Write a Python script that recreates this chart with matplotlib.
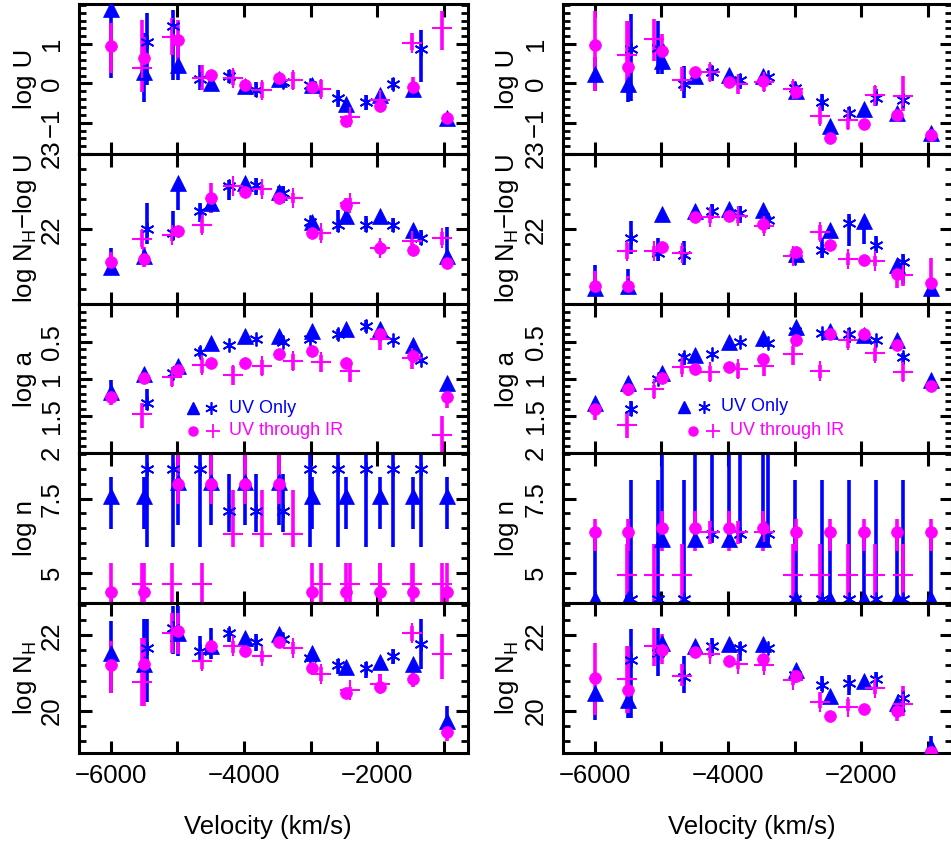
import matplotlib
matplotlib.use('Agg')
import matplotlib.pyplot as plt
import numpy as np
from matplotlib.ticker import FixedLocator

plt.rcParams['font.family'] = ['Liberation Sans', 'DejaVu Sans']
plt.rcParams['mathtext.default'] = 'regular'

BLUE = '#0000FF'
MAG = '#FF00FF'

# ---------------- velocities (km/s) ----------------
vel_tri = [-6000, -5500, -4990, -4490, -3985, -3475, -2980, -2460, -1960, -1460, -950]
vel_circ = [-6005, -5500, -4995, -4490, -3985, -3475, -2980, -2460, -1960, -1455, -945]
vel_star_L = [-5464, -5063, -4662, -4221, -3820, -3409, -3008, -2582, -2165, -1764, -1343]
vel_plus_L = [-5539, -5088, -4637, -4160, -3734, -3258, -2847, -2406, -1955, -1479, -1028]
vel_star_R = [-5459, -5058, -4657, -4236, -3820, -3404, -2992, -2591, -2180, -1779, -1363]
vel_plus_R = [-5524, -5108, -4697, -4271, -3845, -3454, -3018, -2617, -2200, -1790, -1375]

N = None
# each series: [value, lower bound, upper bound]
# ---------------- left column ----------------
LU_tri = [[1.89, 0.30, 0.47, 0.02, -0.07, 0.10, -0.03, -0.53, -0.30, -0.13, -0.87],
          [0.15, -0.47, 0.09, -0.17, N, N, N, -0.65, N, N, N],
          [2.10, 1.28, 1.02, 0.17, N, N, N, -0.43, N, N, N]]
LU_circ = [[0.94, 0.64, 1.11, 0.21, -0.03, 0.14, -0.09, -0.95, -0.58, -0.10, -0.89],
           [0.26, 0.09, 0.43, N, N, N, N, N, N, -0.30, N],
           [1.53, 1.19, 1.62, N, N, N, N, N, N, 0.17, N]]
LU_star = [[1.05, 1.45, 0.10, 0.19, -0.17, 0.04, -0.05, -0.36, -0.47, -0.02, 0.87],
           [-0.04, 0.09, -0.17, 0.00, -0.34, N, N, -0.60, -0.68, -0.17, 0.04],
           [1.79, 1.87, 0.47, 0.34, 0.04, N, N, -0.17, -0.30, 0.13, 1.36]]
LU_plus = [[0.38, 1.19, 0.13, 0.15, -0.17, 0.09, -0.13, -0.85, -0.41, 1.04, 1.40],
           [-0.21, 0.72, -0.17, -0.04, -0.38, -0.13, -0.34, -0.98, -0.50, 0.85, 0.85],
           [1.62, 1.66, 0.47, 0.34, 0.04, 0.30, 0.09, -0.72, -0.34, 1.28, 1.83]]

LNU_tri = [[21.50, 21.64, 22.61, 22.35, 22.61, 22.50, 22.10, 22.17, 22.17, 21.99, 21.64],
           [21.46, 21.55, 22.26, 22.21, 22.44, 22.35, N, 22.10, N, N, 21.59],
           [21.75, 21.72, 22.61, 22.39, 22.64, 22.57, N, 22.24, N, N, 22.03]]
LNU_circ = [[21.56, 21.61, 21.98, 22.41, 22.50, 22.41, 21.95, 22.32, 21.75, 21.73, 21.55],
            [21.50, 21.50, N, 22.21, 22.44, N, N, 22.24, 21.68, 21.68, 21.50],
            [21.70, 21.77, N, 22.61, 22.57, N, N, 22.41, 21.84, 21.81, 21.64]]
LNU_star = [[22.01, 21.95, 22.24, 22.57, 22.59, 22.48, 22.10, 22.06, 22.06, 22.06, 21.89],
            [21.81, 21.86, 22.10, 22.39, 22.46, 22.35, N, 21.97, 21.97, 21.97, 21.79],
            [22.35, 22.24, 22.35, 22.66, 22.68, 22.57, N, 22.26, 22.17, 22.15, 21.99]]
LNU_plus = [[21.87, 21.92, 22.06, 22.57, 22.53, 22.41, 21.95, 22.35, 21.75, 21.85, 21.88],
            [21.77, 21.84, 21.95, N, 22.46, 22.35, 21.86, 22.26, 21.68, 21.79, 21.79],
            [21.99, 22.01, 22.21, N, 22.59, 22.48, 22.01, 22.41, 21.81, 21.92, 21.97]]

La_tri = [[1.17, 0.93, 0.83, 0.52, 0.42, 0.42, 0.35, 0.32, 0.32, 0.54, 1.05],
          [1.01, N, N, N, N, N, N, N, N, N, N],
          [1.28, N, N, N, N, N, N, N, N, N, N]]
La_circ = [[1.25, 0.99, 0.88, 0.79, 0.79, 0.67, 0.62, 0.79, 0.39, 0.69, 1.24],
           [1.15, 0.92, N, N, N, N, N, N, 0.30, 0.61, 1.13],
           [1.35, 1.06, N, N, N, N, N, N, 0.50, 0.79, 1.39]]
La_star = [[1.33, 0.92, 0.63, 0.54, 0.46, 0.50, 0.46, 0.39, 0.28, 0.47, 0.74],
           [1.13, N, 0.57, N, N, N, N, 0.32, 0.21, N, N],
           [1.42, N, 0.70, N, N, N, N, 0.48, 0.37, N, N]]
La_plus = [[1.47, 0.98, 0.81, 0.95, 0.83, 0.76, 0.77, 0.89, 0.46, 0.72, 1.75],
           [1.33, 0.90, 0.72, 0.83, 0.75, 0.66, 0.68, 0.83, 0.37, 0.66, 1.50],
           [1.66, 1.10, 0.92, 1.08, 0.95, 0.88, 0.90, 1.04, 0.61, 0.86, 2.00]]

Ln_tri = [[7.60, 7.60, 8.05, 8.05, 8.05, 8.05, 7.60, 7.60, 7.60, 7.60, 7.60],
          [6.49, 6.49, 6.60, 6.60, 6.60, 6.60, 6.49, 6.49, 6.49, 6.49, 6.49],
          [8.23, 8.23, 9.30, 9.30, 9.30, 9.30, 8.23, 8.23, 8.23, 8.23, 8.23]]
Ln_circ = [[4.37, 4.37, 8.00, 8.00, 8.00, 8.00, 4.37, 4.37, 4.37, 4.37, 4.37],
           [3.90, 3.90, 7.33, 7.33, 7.33, 7.33, 3.90, 3.90, 3.90, 3.90, 3.90],
           [5.32, 5.32, 9.30, 9.30, 9.30, 9.30, 5.32, 5.32, 5.32, 5.32, 5.32]]
Ln_star = [[8.50, 8.50, 8.50, 7.09, 7.09, 7.09, 8.50, 8.50, 8.50, 8.50, 8.50],
           [5.88, 5.88, 5.88, 6.38, 6.38, 6.38, 5.88, 5.88, 5.88, 5.88, 5.88],
           [9.50, 9.50, 9.50, 8.34, 8.34, 8.34, 9.50, 9.50, 9.50, 9.50, 9.50]]
Ln_plus = [[4.63, 4.63, 4.63, 6.30, 6.30, 6.30, 4.63, 4.63, 4.63, 4.63, 4.63],
           [3.90, 3.90, 3.90, 5.88, 5.88, 5.88, 3.90, 3.90, 3.90, 3.90, 3.90],
           [5.32, 5.32, 5.32, 7.78, 7.78, 7.78, 5.32, 5.32, 5.32, 5.32, 5.32]]

LNH_tri = [[21.54, 21.23, 22.07, 21.72, 21.94, 22.03, 21.54, 21.15, 21.28, 21.23, 19.74],
           [20.48, 20.57, 21.45, 21.37, N, N, N, N, N, N, 19.65],
           [22.38, 22.42, 22.78, 22.20, N, N, N, N, N, N, 20.13]]
LNH_circ = [[21.21, 21.23, 22.11, 21.72, 21.59, 21.81, 21.13, 20.48, 20.62, 20.84, 19.43],
            [20.48, 20.13, 21.50, N, 21.45, 21.67, N, N, 20.48, 20.62, 19.20],
            [21.85, 21.94, 22.60, N, 21.67, 21.89, N, N, 20.97, 21.15, 19.60]]
LNH_star = [[21.67, 22.20, 21.59, 22.07, 21.81, 21.89, 21.41, 21.21, 21.12, 21.45, 21.76],
            [20.22, 21.50, 21.32, 21.81, 21.59, N, N, 20.97, 20.88, 21.23, 21.10],
            [22.42, 22.78, 21.98, 22.20, 22.03, N, N, 21.37, 21.28, 21.63, 22.42]]
LNH_plus = [[20.75, 22.07, 21.32, 21.72, 21.45, 21.65, 20.97, 20.56, 20.72, 22.05, 21.50],
            [20.13, 21.54, 21.10, 21.54, 21.28, 21.50, 20.79, 20.50, 20.57, 21.85, 20.84],
            [21.94, 22.60, 21.54, 21.85, 21.59, 21.81, 21.15, 20.63, 20.97, 22.25, 22.03]]

# ---------------- right column ----------------
RU_tri = [[0.25, -0.02, 0.58, 0.19, 0.22, 0.19, -0.19, -1.08, -0.65, -0.74, -1.25],
          [-0.19, -0.48, 0.24, N, N, N, N, N, N, N, N],
          [0.66, 0.41, 0.92, N, N, N, N, N, N, N, N]]
RU_circ = [[0.98, 0.42, 0.83, 0.30, 0.03, 0.07, -0.23, -1.40, -1.02, -0.81, -1.31],
           [-0.19, -0.10, 0.41, N, N, N, N, N, N, N, N],
           [1.85, 1.59, 1.25, N, N, N, N, N, N, N, N]]
RU_star = [[0.87, 0.90, -0.02, 0.28, 0.09, 0.17, -0.12, -0.48, -0.74, -0.36, -0.42],
           [-0.44, 0.24, -0.36, 0.07, -0.14, N, N, -0.69, -0.91, -0.53, -0.65],
           [1.76, 1.59, 0.45, 0.45, 0.24, N, N, -0.27, -0.61, -0.14, -0.31]]
RU_plus = [[0.73, 1.13, 0.08, 0.28, -0.02, 0.04, -0.14, -0.82, -0.93, -0.29, -0.31],
           [-0.19, 0.58, -0.19, 0.07, -0.27, -0.19, -0.27, -1.03, -1.16, -0.57, -0.69],
           [1.59, 1.64, 0.41, 0.49, 0.19, 0.24, 0.07, -0.61, -0.78, -0.06, 0.19]]

RNU_tri = [[21.22, 21.24, 22.20, 22.24, 22.27, 22.25, 21.67, 21.99, 22.11, 21.53, 21.22],
           [21.18, 21.18, N, N, N, N, N, N, 21.80, N, N],
           [21.53, 21.47, N, N, N, N, N, N, 22.16, N, N]]
RNU_circ = [[21.25, 21.24, 21.76, 22.16, 22.18, 22.07, 21.70, 21.79, 21.59, 21.40, 21.29],
            [21.18, 21.18, N, 22.09, N, 22.00, N, N, N, 21.22, 21.20],
            [21.44, 21.38, N, 22.20, N, 22.13, N, N, N, 21.53, 21.62]]
RNU_star = [[21.88, 21.69, 21.66, 22.24, 22.22, 22.13, 21.62, 21.72, 22.09, 21.79, 21.56],
            [21.67, 21.58, 21.53, 22.16, 22.09, 22.00, N, 21.62, 21.78, 21.69, 21.27],
            [22.11, 21.89, 21.84, 22.33, 22.31, 22.22, N, 21.89, 22.20, 21.91, 21.67]]
RNU_plus = [[21.71, 21.71, 21.69, 22.16, 22.17, 22.04, 21.64, 21.96, 21.61, 21.58, 21.39],
            [21.60, 21.64, 21.60, 22.09, 22.09, 21.95, 21.58, 21.86, 21.53, 21.51, 21.24],
            [21.82, 21.78, 21.78, 22.22, 22.22, 22.11, 21.71, 22.06, 21.69, 21.64, 21.51]]

Ra_tri = [[1.32, 1.05, 0.92, 0.68, 0.50, 0.45, 0.30, 0.36, 0.41, 0.48, 1.02],
          [N] * 11, [N] * 11]
Ra_circ = [[1.41, 1.14, 0.99, 0.86, 0.84, 0.73, 0.48, 0.40, 0.40, 0.54, 1.09],
           [1.30, 1.08, N, N, N, N, 0.40, 0.33, N, N, N],
           [1.55, 1.23, N, N, N, N, 0.56, 0.47, N, N, N]]
Ra_star = [[1.41, 1.00, 0.71, 0.67, 0.50, 0.51, 0.35, 0.38, 0.39, 0.48, 0.71],
           [1.30, N, 0.65, N, N, N, N, N, 0.31, N, 0.65],
           [1.50, N, 0.81, N, N, N, N, N, 0.51, N, 0.78]]
Ra_plus = [[1.62, 1.14, 0.84, 0.91, 0.87, 0.83, 0.67, 0.89, 0.47, 0.65, 0.90],
           [1.46, 1.08, 0.76, 0.83, 0.78, 0.74, 0.56, 0.81, 0.38, 0.58, 0.76],
           [1.80, 1.26, 0.94, 1.03, 0.99, 0.96, 0.81, 0.99, 0.58, 0.76, 1.03]]

Rn_tri = [[4.13, 4.13, 6.13, 6.13, 6.13, 6.13, 4.13, 4.13, 4.13, 4.13, 4.13],
          [3.90, 3.90, 6.13, 6.13, 6.13, 6.13, 3.90, 3.90, 3.90, 3.90, 3.90],
          [6.40, 6.40, 9.30, 9.30, 9.30, 9.30, 6.40, 6.40, 6.40, 6.40, 6.40]]
Rn_circ = [[6.39, 6.39, 6.50, 6.50, 6.50, 6.50, 6.39, 6.39, 6.39, 6.39, 6.39],
           [5.74, 5.74, 5.74, 5.74, 5.74, 5.74, 5.74, 5.74, 5.74, 5.74, 5.74],
           [6.80, 6.80, 7.08, 7.08, 7.08, 7.08, 6.80, 6.80, 6.80, 6.80, 6.80]]
Rn_star = [[4.13, 4.13, 4.13, 6.30, 6.30, 6.30, 4.13, 4.13, 4.13, 4.13, 4.13],
           [3.90, 3.90, 3.90, 6.00, 6.00, 6.00, 3.90, 3.90, 3.90, 3.90, 3.90],
           [8.13, 8.13, 8.13, 9.30, 9.30, 9.30, 8.13, 8.13, 8.13, 8.13, 8.13]]
Rn_plus = [[4.94, 4.94, 4.94, 6.39, 6.39, 6.39, 4.94, 4.94, 4.94, 4.94, 4.94],
           [3.90, 3.90, 3.90, 5.97, 5.97, 5.97, 3.90, 3.90, 3.90, 3.90, 3.90],
           [5.97, 5.97, 5.97, 6.74, 6.74, 6.74, 5.97, 5.97, 5.97, 5.97, 5.97]]

RNH_tri = [[20.47, 20.29, 21.80, 21.72, 21.76, 21.76, 21.08, 20.38, 20.78, 20.20, 19.05],
           [19.76, 19.80, N, N, N, N, N, N, N, N, 18.80],
           [20.47, 20.29, N, N, N, N, N, N, N, N, 19.32]]
RNH_circ = [[20.87, 20.54, 21.60, 21.56, 21.32, 21.36, 20.92, 19.87, 20.04, 19.98, 18.90],
            [19.89, 19.94, 21.23, 21.45, N, N, N, N, N, 19.72, N],
            [21.80, 21.72, 22.03, 21.72, N, N, N, N, N, 20.20, N]]
RNH_star = [[21.34, 21.54, 20.90, 21.72, 21.67, 21.67, 20.96, 20.69, 20.74, 20.83, 20.34],
            [19.80, 20.92, 20.47, 21.45, 21.32, N, N, 20.52, 20.43, 20.60, 19.94],
            [22.16, 22.20, 21.45, 21.94, 21.82, N, N, 20.92, 20.96, 21.02, 20.56]]
RNH_plus = [[20.84, 21.72, 20.93, 21.51, 21.24, 21.20, 20.81, 20.22, 20.10, 20.60, 20.19],
            [19.94, 21.18, 20.65, 21.40, 21.11, 21.05, 20.68, 20.08, 19.98, 20.44, 19.85],
            [21.72, 22.20, 21.23, 21.63, 21.33, 21.31, 20.98, 20.49, 20.30, 20.73, 20.65]]

# ---------------- axis definitions ----------------
ylabels = ['log U', 'log N$_{H}$\u2212log U', 'log a', 'log n', 'log N$_{H}$']
ylims = [(-1.79, 2.02), (21.01, 23.005), (2.004, -0.016), (3.98, 9.02), (18.88, 22.85)]
ymajor = [[-1, 0, 1], [22, 23], [0.5, 1, 1.5, 2], [5, 7.5], [20, 22]]
ymajor_lab = [['\u22121', '0', '1'], ['22', '23'], ['0.5', '1', '1.5', '2'], ['5', '7.5'], ['20', '22']]
yminor = [np.arange(-1.8, 2.01, 0.2), np.arange(21.2, 23.0, 0.2), np.arange(0.1, 2.0, 0.1),
          np.arange(4.0, 9.01, 0.5), np.arange(19.2, 22.81, 0.4)]
xmajor = [-6000, -5000, -4000, -3000, -2000, -1000]
xlab = ['\u22126000', '', '\u22124000', '', '\u22122000', '']
XLIM = (-6481, -632)

left_data = [(LU_tri, LU_circ, LU_star, LU_plus), (LNU_tri, LNU_circ, LNU_star, LNU_plus),
             (La_tri, La_circ, La_star, La_plus), (Ln_tri, Ln_circ, Ln_star, Ln_plus),
             (LNH_tri, LNH_circ, LNH_star, LNH_plus)]
right_data = [(RU_tri, RU_circ, RU_star, RU_plus), (RNU_tri, RNU_circ, RNU_star, RNU_plus),
              (Ra_tri, Ra_circ, Ra_star, Ra_plus), (Rn_tri, Rn_circ, Rn_star, Rn_plus),
              (RNH_tri, RNH_circ, RNH_star, RNH_plus)]

W, H = 951, 844
fig = plt.figure(figsize=(W / 100, H / 100), dpi=100)

ASTER = (6, 2, 0)


def series(ax, x, s, marker, color, ms, mew, lw=2.6, fill=True):
    val, lo, hi = s
    xs, l, h = [], [], []
    for xi, v, a, b in zip(x, val, lo, hi):
        if a is None or b is None:
            continue
        xs.append(xi); l.append(a); h.append(b)
    ax.vlines(xs, l, h, colors=color, lw=lw, zorder=2)
    if fill:
        ax.plot(x, val, ls='none', marker=marker, ms=ms, mfc=color, mec=color, mew=mew, zorder=3)
    else:
        ax.plot(x, val, ls='none', marker=marker, ms=ms, color=color, mew=mew, zorder=3)


def make_col(x0, data, vstar, vplus, ylab_x):
    axes = []
    top = 4.0
    ph = 149.8
    for i in range(5):
        y0 = H - (top + (i + 1) * ph)
        ax = fig.add_axes([x0 / W, y0 / H, 389 / W, ph / H])
        tri, circ, star, plus = data[i]
        series(ax, vel_tri, tri, '^', BLUE, 11.5, 0.5)
        series(ax, vstar, star, ASTER, BLUE, 10, 1.3, fill=False)
        series(ax, vel_circ, circ, 'o', MAG, 8.5, 0.5)
        series(ax, vplus, plus, '+', MAG, 14, 1.5, fill=False)
        ax.set_xlim(*XLIM)
        ax.set_ylim(*ylims[i])
        ax.xaxis.set_major_locator(FixedLocator(xmajor))
        ax.yaxis.set_major_locator(FixedLocator(ymajor[i]))
        ax.yaxis.set_minor_locator(FixedLocator(yminor[i]))
        ax.set_yticklabels(ymajor_lab[i])
        ax.tick_params(axis='both', which='both', direction='in', top=True, right=True)
        ax.tick_params(axis='both', which='major', length=9, width=2.2)
        ax.tick_params(axis='y', which='minor', length=5, width=2.0)
        ax.tick_params(axis='y', labelsize=18.5, pad=11, labelrotation=90)
        for t in ax.get_yticklabels():
            t.set_va('center')
        if i < 4:
            ax.tick_params(axis='x', labelbottom=False)
        else:
            ax.set_xticklabels(xlab)
            ax.tick_params(axis='x', labelsize=18.5, pad=8)
        for sp in ax.spines.values():
            sp.set_linewidth(2.2)
        fig.text(ylab_x / W, 1 - (top + (i + 0.5) * ph) / H, ylabels[i], rotation=90,
                 ha='center', va='center', fontsize=18.5)
        axes.append(ax)
    return axes


axL = make_col(79, left_data, vel_star_L, vel_plus_L, 25)
axR = make_col(563, right_data, vel_star_R, vel_plus_R, 507)

fig.text(268 / W, 1 - 827 / H, 'Velocity (km/s)', ha='center', va='center', fontsize=18.5)
fig.text(752 / W, 1 - 827 / H, 'Velocity (km/s)', ha='center', va='center', fontsize=18.5)


def legend(ax, pts, texts):
    (tx1, ty1), (sx1, _), (cx2, ty2), (px2, _), (t1x, t2x) = pts
    ax.plot([tx1], [ty1], transform=ax.transAxes, marker='^', ms=9, color=BLUE, ls='none', clip_on=False)
    ax.plot([sx1], [ty1], transform=ax.transAxes, marker=ASTER, ms=9, color=BLUE, mew=1.2, ls='none', clip_on=False)
    ax.plot([cx2], [ty2], transform=ax.transAxes, marker='o', ms=6.5, color=MAG, ls='none', clip_on=False)
    ax.plot([px2], [ty2], transform=ax.transAxes, marker='+', ms=10, color=MAG, mew=1.3, ls='none', clip_on=False)
    ax.text(t1x, ty1, texts[0], transform=ax.transAxes, color=BLUE, fontsize=13, va='center', ha='left')
    ax.text(t2x, ty2, texts[1], transform=ax.transAxes, color=MAG, fontsize=13, va='center', ha='left')


legend(axL[2], [(0.292, 0.303), (0.340, 0), (0.292, 0.150), (0.345, 0), (0.385, 0.385)],
       ['UV Only', 'UV through IR'])
legend(axR[2], [(0.312, 0.312), (0.363, 0), (0.335, 0.152), (0.386, 0), (0.406, 0.429)],
       ['UV Only', 'UV through IR'])

fig.savefig('out.png', dpi=100)
